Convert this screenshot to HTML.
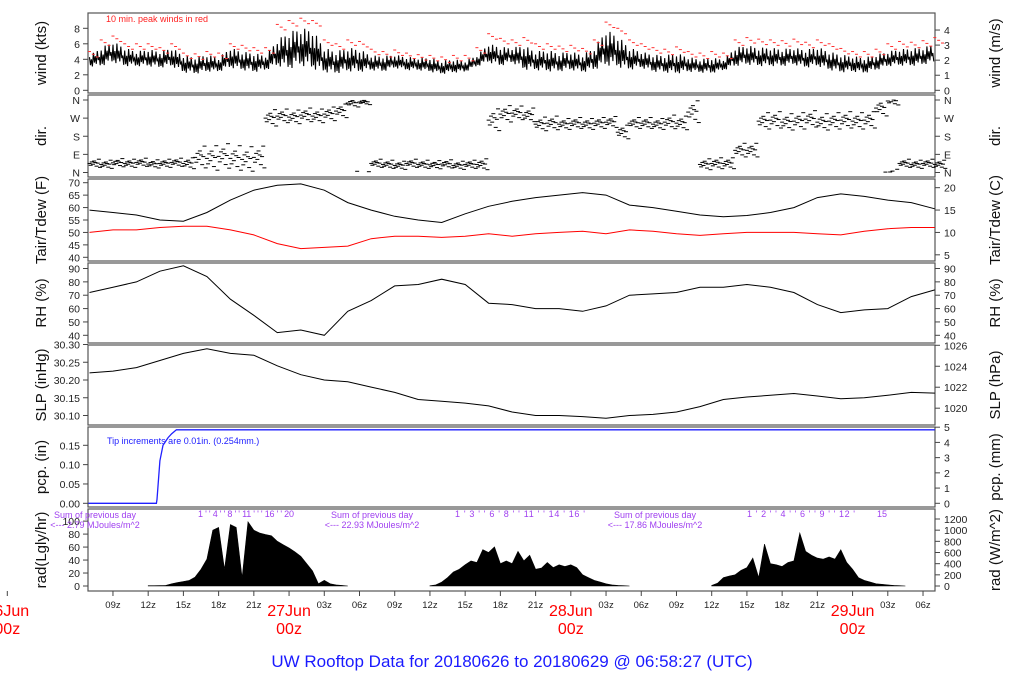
<!DOCTYPE html>
<html><head><meta charset="utf-8">
<style>
html,body{margin:0;padding:0;background:#fff;}
svg{display:block;font-family:"Liberation Sans",Arial,sans-serif;}
</style></head>
<body>
<svg id="chart" width="1024" height="700" viewBox="0 0 1024 700" xmlns="http://www.w3.org/2000/svg">
<rect x="0" y="0" width="1024" height="700" fill="#fff"/>
<g id="layer"></g>
<text x="106" y="22" font-size="9" fill="#ff2020">10 min. peak winds in red</text>
<text x="107" y="444" font-size="9" fill="#2020ff">Tip increments are 0.01in. (0.254mm.)</text>
<text x="512" y="667" font-size="17" fill="#1a1aff" text-anchor="middle">UW Rooftop Data for 20180626  to  20180629 @ 06:58:27  (UTC)</text>
</svg>
<script>
// ---- data ----
const windHours = [7,8,9,10,11,12,13,14,15,16,17,18,19,20,21,22,23,24,25,26,27,28,29,30,31,32,33,34,35,36,37,38,39,40,41,42,43,44,45,46,47,48,49,50,51,52,53,54,55,56,57,58,59,60,61,62,63,64,65,66,67,68,69,70,71,72,73,74,75,76,77,78,79];
const windLo = [3,3,3.5,3,3,3,2.8,3,2.2,2,2.3,2.3,2.8,2.5,2.2,2.5,3,2.5,3,2.5,2.2,2,2.3,2.2,2.5,2.3,2.8,2.5,2.5,2.3,2,2.2,2.3,3,3.5,3,3.5,2.5,2.5,2.3,2.3,2.5,2.2,2.5,3,2.8,2.5,2.8,2.3,2.2,2,2.3,2.2,2.1,2.5,3,3.2,3,3,3,3.2,2.8,3,2.5,2.2,2.3,2.1,2.5,3,3.1,3,3.2,3.5];
const windHi = [4.5,5.5,6.3,5.5,5,5.3,5,5.5,4.5,4.3,4.6,4.2,5.5,5,4.8,4.5,6.5,7.5,8,7.8,5.5,5,5.5,5.3,4.5,4.4,4.6,4.3,4.2,4.2,3.8,4,3.8,4.5,6,5.6,5.5,5.8,5,5.2,4.8,5,4.6,5.5,7.8,7,5.5,5,4.6,4.5,4.8,4.3,4,4.2,4,5.5,5.8,5.5,5.5,5.3,5.5,5.2,5.6,5,4.6,4.4,4.2,4.6,5,5.3,5.4,5.5,6];
const windPeak = [5,6.5,7,6,6,6,5.5,6,4.8,4.7,5,4.8,6,5.8,5.5,5.5,8.5,9,9.3,9,6.5,6,6.5,6.3,5.3,5,5.2,4.8,4.6,4.5,4.3,4.5,4.5,5.5,7.3,6.7,6.5,6.8,6,6,5.7,5.8,5.4,6.5,8.8,8,6.5,6,5.5,5.3,5.6,5,4.8,5,4.8,6.5,6.8,6.6,6.5,6.4,6.6,6.2,6.5,6,5.4,5,5,5.3,6,6.3,6.2,6.4,6.8];
const dirCenter = [45,40,48,45,50,42,45,50,45,75,70,80,70,65,75,270,280,275,285,280,290,305,345,350,45,40,35,45,40,38,42,35,40,40,260,290,295,285,240,245,240,245,240,245,250,200,245,245,240,250,245,300,40,45,45,110,110,255,260,250,255,265,250,255,260,255,260,320,355,45,40,45,40];
const dirSpread = [15,15,15,15,15,15,15,15,20,40,45,45,45,45,40,30,25,25,25,25,25,25,15,10,15,15,15,15,15,15,15,15,15,20,40,30,25,25,25,25,20,20,20,20,20,25,20,20,20,25,25,40,20,20,20,25,25,30,30,30,30,30,30,30,30,30,30,30,15,15,15,15,15];
const tHours = [7,9,11,13,15,17,19,21,23,25,27,29,31,33,35,37,39,41,43,45,47,49,51,53,55,57,59,61,63,65,67,69,71,73,75,77,79];
const tair = [59,58,57,55,54.5,58,63,67,69,69.5,67,62,59,56.5,55,54,57.5,60.5,62.5,64,65,66,65,61,60,58.5,57,56.3,56.8,58,60,64,65.5,64.5,63,62,59.5];
const tdew = [50,51,51,52,52.5,52.5,51,49,45.5,43.5,44,44.5,47.5,48.5,48.5,48,48.5,49.5,48.5,49.5,50,50.5,49.5,51,50.5,49.5,48.8,49.5,50,50,50,49.5,49,50.5,51.5,52,52];
const rh = [72,76,80,88,92,84,67,55,42,44,40,58,66,77,78,82,78,64,63,60,60,58,62,70,71,72,76,76,78,76,72,63,57,59,60,69,74];
const slp = [30.22,30.225,30.235,30.255,30.275,30.288,30.275,30.27,30.24,30.215,30.20,30.195,30.18,30.165,30.145,30.14,30.135,30.127,30.11,30.10,30.10,30.097,30.092,30.10,30.103,30.11,30.125,30.145,30.152,30.157,30.162,30.155,30.147,30.150,30.157,30.165,30.163];
const pcpHours = [6.9,12.7,12.75,13.0,13.26,13.7,14.0,14.4,79];
const pcpValues = [0,0,0.01,0.11,0.15,0.17,0.18,0.19,0.19];
const radStarts = [12,36,60];
const radStep = 0.5;
const radDay1 = [5,5,8,10,40,60,80,100,160,300,480,1000,1050,300,1100,1050,150,1150,1000,950,920,900,800,740,680,610,530,400,270,40,100,40,20,10,0];
const radDay2 = [5,20,70,150,250,300,380,450,420,650,600,700,400,450,400,620,450,550,300,320,420,330,380,350,380,330,200,150,100,70,40,20,10,5,0];
const radDay3 = [10,50,150,180,200,280,330,500,150,750,400,380,350,420,450,950,620,550,500,480,520,480,650,420,300,150,100,70,40,30,20,10,5,0];
const xTickHours = [9,12,15,18,21,27,30,33,36,39,42,45,51,54,57,60,63,66,69,75,78];
const xTickLabels = ["09z","12z","15z","18z","21z","03z","06z","09z","12z","15z","18z","21z","03z","06z","09z","12z","15z","18z","21z","03z","06z"];
const dayHours = [0,24,48,72];
const dayLabels = ["26Jun","27Jun","28Jun","29Jun"];
const radSums = ["2.79","22.93","17.86"];

// ---- geometry ----
const X0=88, X1=935;
const x = h => 7.3 + h*11.74;
const layer = document.getElementById('layer');
const NS='http://www.w3.org/2000/svg';
function mk(tag, attrs, parent){const e=document.createElementNS(NS,tag);for(const k in attrs)e.setAttribute(k,attrs[k]);(parent||layer).appendChild(e);return e;}
function lin(v0,y0,v1,y1){return v=>y0+(v-v0)*(y1-y0)/(v1-v0);}

const panels = [
 {name:'wind',top:13,bot:93,y:lin(0,90.3,8,28.3),lt:[0,2,4,6,8],ll:["0","2","4","6","8"],rt:[0,1,2,3,4].map(v=>v*1.944),rl:["0","1","2","3","4"],lTitle:"wind (kts)",rTitle:"wind (m/s)"},
 {name:'dir',top:95,bot:177,y:lin(0,172.5,360,100),lt:[0,90,180,270,360],ll:["N","E","S","W","N"],rt:[0,90,180,270,360],rl:["N","E","S","W","N"],lTitle:"dir.",rTitle:"dir."},
 {name:'temp',top:179,bot:261,y:lin(40,257.3,70,182.7),lt:[40,45,50,55,60,65,70],ll:["40","45","50","55","60","65","70"],rt:[5,10,15,20].map(c=>c*1.8+32),rl:["5","10","15","20"],lTitle:"Tair/Tdew (F)",rTitle:"Tair/Tdew (C)"},
 {name:'rh',top:263,bot:343,y:lin(40,335.3,90,268.5),lt:[40,50,60,70,80,90],ll:["40","50","60","70","80","90"],rt:[40,50,60,70,80,90],rl:["40","50","60","70","80","90"],lTitle:"RH (%)",rTitle:"RH (%)"},
 {name:'slp',top:345,bot:425,y:lin(30.10,415.5,30.30,344.5),lt:[30.10,30.15,30.20,30.25,30.30],ll:["30.10","30.15","30.20","30.25","30.30"],rt:[1020,1022,1024,1026].map(p=>p*0.02953),rl:["1020","1022","1024","1026"],lTitle:"SLP (inHg)",rTitle:"SLP (hPa)"},
 {name:'pcp',top:427,bot:507,y:lin(0,503.3,0.15,445.3),lt:[0,0.05,0.10,0.15],ll:["0.00","0.05","0.10","0.15"],rt:[0,1,2,3,4,5].map(m=>m/25.4),rl:["0","1","2","3","4","5"],lTitle:"pcp. (in)",rTitle:"pcp. (mm)"},
 {name:'rad',top:509,bot:591,y:lin(0,586,1200,519),lt:[0,20,40,60,80,100].map(v=>v*11.62),ll:["0","20","40","60","80","100"],rt:[0,200,400,600,800,1000,1200],rl:["0","200","400","600","800","1000","1200"],lTitle:"rad(Lgly/hr)",rTitle:"rad (W/m^2)"}
];

panels.forEach(p=>{
  const g=mk('g',{});
  
  
  p.g=g;
  const fr=mk('rect',{x:X0,y:p.top,width:X1-X0,height:p.bot-p.top,fill:'none',stroke:'#555','stroke-width':1.2},g);
  
  
  p.lt.forEach((v,i)=>{
    const yy=p.y(v);
    mk('line',{x1:X0-5,x2:X0,y1:yy,y2:yy,stroke:'#444'},g);
    const t=mk('text',{x:X0-8,y:yy+4,'font-size':10.5,'text-anchor':'end',fill:'#222'},g);
    t.textContent=p.ll[i];
    
    
  });
  p.rt.forEach((v,i)=>{
    const yy=p.y(v);
    mk('line',{x1:X1,x2:X1+5,y1:yy,y2:yy,stroke:'#444'},g);
    const t=mk('text',{x:X1+9,y:yy+4,'font-size':10.5,fill:'#222'},g);
    t.textContent=p.rl[i];
    
    
  });
  const cy=(p.top+p.bot)/2;
  const lt=mk('text',{x:46,y:cy,'font-size':15,'text-anchor':'middle',transform:`rotate(-90 46 ${cy})`,fill:'#111'},g);
  lt.textContent=p.lTitle;
  
  
  const rt=mk('text',{x:1000,y:cy,'font-size':15,'text-anchor':'middle',transform:`rotate(-90 1000 ${cy})`,fill:'#111'},g);
  rt.textContent=p.rTitle;
  
  
});
const P = Object.fromEntries(panels.map(p=>[p.name,p]));

// wind trace: dense jagged line sweeping between per-hour min and max
(function(){
  const p=P.wind;
  const frac=[0.85,0.15,0.6,0.05,1,0.3,0.7,0.2,0.95,0.4,0.55,0.1];
  let d='';
  windHours.forEach((h,i)=>{ if(i<windHours.length-1){
    frac.forEach((f,k)=>{
      const hh=h+k/frac.length;
      const t=k/frac.length;
      const lo=windLo[i]*(1-t)+windLo[i+1]*t, hi=windHi[i]*(1-t)+windHi[i+1]*t;
      d+=(d?'L':'M')+x(hh).toFixed(1)+','+p.y(lo+f*(hi-lo)).toFixed(1);
    });
  }});
  const zz=mk('path',{d,fill:'none',stroke:'#000','stroke-width':1.1},p.g);
  
  
  windHours.forEach((h,i)=>{
    [0,0.33,0.66].forEach((o,k)=>{
      const yy=p.y(windPeak[i]-k*0.35);
      const m=mk('line',{x1:x(h+o)-1.5,x2:x(h+o)+1.5,y1:yy,y2:yy,stroke:'#ff3030','stroke-width':1},p.g);
      
      
    });
  });
})();

// direction dashes
(function(){
  const p=P.dir;
  const offs=[0,-0.6,0.5,-0.25,0.8,0.3,-0.9,0.1,1.4,-1.3];
  windHours.forEach((h,i)=>{
    offs.forEach((o,k)=>{
      let v=dirCenter[i]+o*dirSpread[i];
      if(v>360)v-=360; if(v<0)v+=360;
      const xx=x(h+k/offs.length), yy=p.y(v);
      const m=mk('line',{x1:xx-2,x2:xx+2,y1:yy,y2:yy,stroke:'#000','stroke-width':1},p.g);
      
      
    });
  });
})();

function line(panel,hs,vs,color,name,w){
  const p=P[panel];
  const d=hs.map((h,i)=>(i?'L':'M')+x(h).toFixed(1)+','+p.y(vs[i]).toFixed(1)).join('');
  const e=mk('path',{d,fill:'none',stroke:color,'stroke-width':w||1},p.g);
  
  
}
line('temp',tHours,tair,'#000','air-temperature-line');
line('temp',tHours,tdew,'#ff0000','dewpoint-line');
line('rh',tHours,rh,'#000','relative-humidity-line');
line('slp',tHours,slp,'#000','pressure-line');
line('pcp',pcpHours,pcpValues,'#2020ff','precipitation-line',1.3);

// radiation
[radDay1,radDay2,radDay3].forEach((arr,di)=>{
  const p=P.rad; const s=radStarts[di];
  let d='M'+x(s).toFixed(1)+','+p.y(0);
  arr.forEach((v,i)=>{d+='L'+x(s+i*radStep).toFixed(1)+','+p.y(v).toFixed(1);});
  d+='L'+x(s+(arr.length-1)*radStep).toFixed(1)+','+p.y(0)+'Z';
  const e=mk('path',{d,fill:'#000',stroke:'#000','stroke-width':0.6},p.g);
  
  
});
const sumX=[95,372,655];
radSums.forEach((s,i)=>{
  const t1=mk('text',{x:sumX[i],y:518,'font-size':9,'text-anchor':'middle',fill:'#a040f0'});
  t1.textContent='Sum of previous day';
  
  
  const t2=mk('text',{x:sumX[i],y:528,'font-size':9,'text-anchor':'middle',fill:'#a040f0'});
  t2.textContent='<--- '+s+' MJoules/m^2';
  
  
});
const hrStr=[["198","1 ' ' 4 ' ' 8 ' ' 11 ' ' ' 16 ' ' 20",96],["455","1 ' 3 ' ' 6 ' 8 ' ' 11 ' ' 14 ' 16 '",130],["747","1 ' 2 ' ' 4 ' ' 6 ' ' 9 ' ' 12 '",108]];
hrStr.forEach(a=>{
  const t=mk('text',{x:a[0],y:517,'font-size':9,fill:'#a040f0',textLength:a[2],lengthAdjust:'spacing'});
  t.textContent=a[1];
  
  
});
(function(){const t=mk('text',{x:877,y:517,'font-size':9,fill:'#a040f0'});t.textContent='15';

})();

// x axis
xTickHours.forEach((h,i)=>{
  mk('line',{x1:x(h),x2:x(h),y1:591,y2:596,stroke:'#444'});
  const t=mk('text',{x:x(h),y:608,'font-size':9.5,'text-anchor':'middle',fill:'#222'});
  t.textContent=xTickLabels[i];
  
  
});
dayHours.forEach((h,i)=>{
  mk('line',{x1:x(h),x2:x(h),y1:591,y2:596,stroke:'#444'});
  const t=mk('text',{x:x(h),y:616,'font-size':16,'text-anchor':'middle',fill:'#ff0000'});
  t.textContent=dayLabels[i];
  
  
  const t2=mk('text',{x:x(h),y:634,'font-size':16,'text-anchor':'middle',fill:'#ff0000'});
  t2.textContent='00z';
  
  
});
</script>
</body></html>
